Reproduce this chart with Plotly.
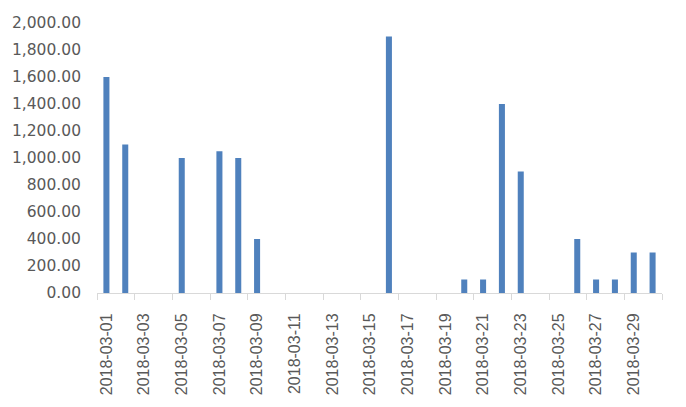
import plotly.graph_objects as go

dates = [f"2018-03-{d:02d}" for d in range(1, 31)]
values = [1600, 1100, 0, 0, 1000, 0, 1050, 1000, 400, 0,
          0, 0, 0, 0, 0, 1900, 0, 0, 0, 100,
          100, 1400, 900, 0, 0, 400, 100, 100, 300, 300]
tick_labels = dates[::2]

bar_color = "#4F81BD"
text_color = "#595959"
axis_color = "#D9D9D9"

fig = go.Figure()
fig.add_trace(go.Bar(x=dates, y=values, marker=dict(color=bar_color, line=dict(width=0)),
                     width=0.32, showlegend=False))
# invisible trace to anchor secondary axis for boundary ticks
fig.add_trace(go.Scatter(x=[-0.5, 29.5], y=[0, 0], xaxis="x2", mode="lines",
                         line=dict(width=0), hoverinfo="skip", showlegend=False))

fig.update_layout(
    width=686, height=407,
    margin=dict(l=89, r=32, t=15, b=122, autoexpand=False),
    paper_bgcolor="white", plot_bgcolor="white",
    xaxis=dict(
        type="category", categoryorder="array", categoryarray=dates,
        range=[-0.5, 29.5],
        tickmode="array", tickvals=tick_labels, ticktext=tick_labels,
        tickangle=-90, ticks="", showgrid=False,
        showline=True, linecolor=axis_color, linewidth=1,
        tickfont=dict(family="Liberation Sans", size=16, color=text_color),
        ticklabelstandoff=13,
        zeroline=False,
    ),
    xaxis2=dict(
        overlaying="x", anchor="y", side="bottom", type="linear",
        range=[-0.5, 29.5], tickmode="linear", tick0=-0.5, dtick=2,
        ticks="outside", ticklen=6, tickcolor=axis_color, tickwidth=1,
        showticklabels=False, showgrid=False, showline=False, zeroline=False,
    ),
    yaxis=dict(
        range=[0, 2000], tickmode="linear", tick0=0, dtick=200,
        tickformat=",.2f", showgrid=False, showline=False, zeroline=False,
        tickfont=dict(family="DejaVu Sans", size=15.5, color=text_color),
        ticklabelstandoff=15,
    ),
)

fig.write_html("out.html")
